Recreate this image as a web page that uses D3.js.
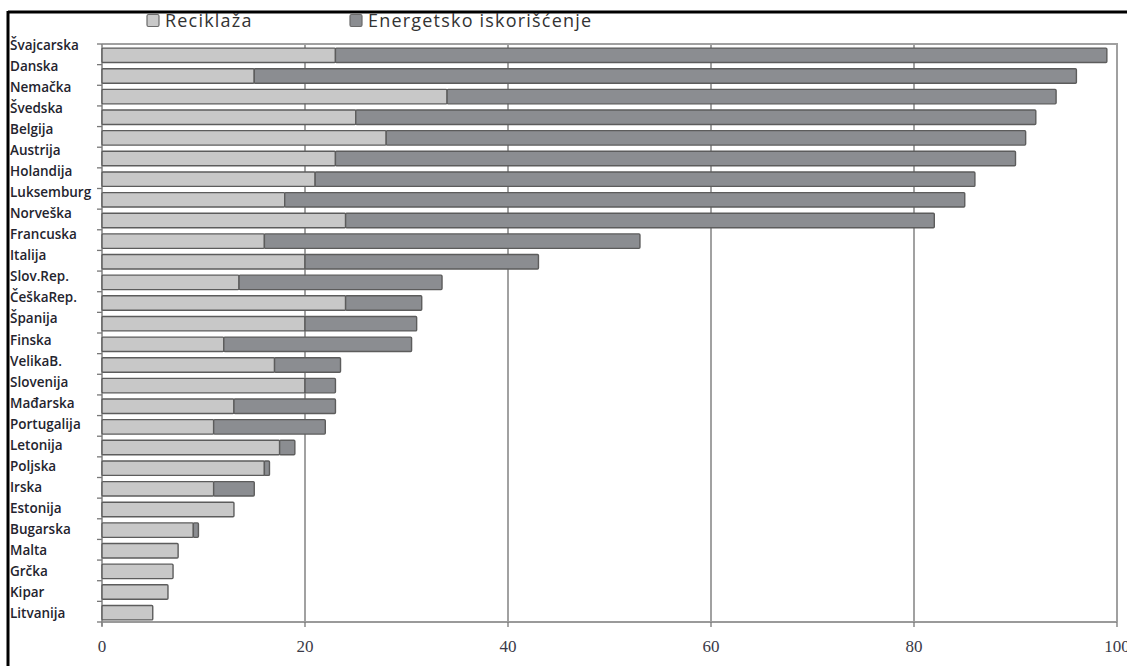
<!DOCTYPE html>
<html>
<head>
<meta charset="utf-8">
<script src="https://cdn.jsdelivr.net/npm/d3@7"></script>
<style>
  html, body { margin: 0; padding: 0; background: #fff; }
  svg { display: block; }
</style>
</head>
<body>
<svg id="chart" width="1127" height="666"></svg>
<script>
// Countries, top to bottom
const categories = ["Švajcarska","Danska","Nemačka","Švedska","Belgija","Austrija","Holandija","Luksemburg","Norveška","Francuska","Italija","Slov.Rep.","ČeškaRep.","Španija","Finska","VelikaB.","Slovenija","Mađarska","Portugalija","Letonija","Poljska","Irska","Estonija","Bugarska","Malta","Grčka","Kipar","Litvanija"];
// Share recycled (%)
const reciklaza = [23,15,34,25,28,23,21,18,24,16,20,13.5,24,20,12,17,20,13,11,17.5,16,11,13,9,7.5,7,6.5,5];
// Share used for energy recovery (%)
const energetsko = [76,81,60,67,63,67,65,67,58,37,23,20,7.5,11,18.5,6.5,3,10,11,1.5,0.5,4,0,0.5,0,0,0,0];
const seriesNames = ["Reciklaža","Energetsko iskorišćenje"];
const xTicks = [0,20,40,60,80,100];
const gridTicks = [20,40,60,80];

const colors = { "Reciklaža": "#c8c8c8", "Energetsko iskorišćenje": "#8b8d91" };

const rows = categories.map((c, i) => ({ kat: c, "Reciklaža": reciklaza[i], "Energetsko iskorišćenje": energetsko[i] }));
const stacked = d3.stack().keys(seriesNames)(rows);

const svg = d3.select("#chart");

const x = d3.scaleLinear().domain([0, 100]).range([102, 1117]);
const y = d3.scaleBand().domain(categories).range([44, 622]).paddingInner(0.3).paddingOuter(0.15);
const yLabel = d3.scalePoint().domain(categories).range([45, 613]);

// outer frame (top and left edges)
svg.append("line").attr("x1", 8).attr("x2", 1127).attr("y1", 12).attr("y2", 12)
  .attr("stroke", "#000").attr("stroke-width", 3);
svg.append("line").attr("x1", 8).attr("x2", 8).attr("y1", 11).attr("y2", 666)
  .attr("stroke", "#000").attr("stroke-width", 3);

// vertical gridlines
svg.append("g").selectAll("line").data(gridTicks).join("line")
  .attr("x1", d => x(d)).attr("x2", d => x(d))
  .attr("y1", y.range()[0]).attr("y2", y.range()[1])
  .attr("stroke", "#8a8a8a").attr("stroke-width", 1.6);

// plot border: top and right
svg.append("path")
  .attr("d", `M${x(0)},${y.range()[0]}H${x(100)}V${y.range()[1]}`)
  .attr("fill", "none").attr("stroke", "#a0a0a0").attr("stroke-width", 2);

// bottom axis line and ticks
svg.append("line").attr("x1", x(0)).attr("x2", x(100)).attr("y1", y.range()[1]).attr("y2", y.range()[1])
  .attr("stroke", "#9a9a9a").attr("stroke-width", 2);
svg.append("g").selectAll("line").data(xTicks).join("line")
  .attr("x1", d => x(d)).attr("x2", d => x(d))
  .attr("y1", y.range()[1]).attr("y2", y.range()[1] + 5)
  .attr("stroke", "#777").attr("stroke-width", 1.3);
svg.append("g").selectAll("text").data(xTicks).join("text")
  .attr("x", d => x(d)).attr("y", 652)
  .attr("text-anchor", "middle")
  .attr("font-family", "'Liberation Serif', 'Times New Roman', serif")
  .attr("font-size", 17)
  .attr("fill", "#3a3a48")
  .text(d => d);

// left axis line with category separator ticks
svg.append("line").attr("x1", x(0)).attr("x2", x(0)).attr("y1", y.range()[0]).attr("y2", y.range()[1] + 4)
  .attr("stroke", "#888").attr("stroke-width", 1.6);
const span = (y.range()[1] - y.range()[0]) / categories.length;
svg.append("g").selectAll("line").data(d3.range(categories.length + 1)).join("line")
  .attr("x1", x(0) - 5).attr("x2", x(0))
  .attr("y1", i => y.range()[0] + i * span).attr("y2", i => y.range()[0] + i * span)
  .attr("stroke", "#777").attr("stroke-width", 1.3);

// stacked bars
svg.append("g").selectAll("g").data(stacked).join("g")
  .attr("fill", d => colors[d.key])
  .selectAll("rect").data(d => d.filter(p => p[1] > p[0])).join("rect")
  .attr("x", p => x(p[0]))
  .attr("y", p => y(p.data.kat) + 1)
  .attr("width", p => x(p[1]) - x(p[0]))
  .attr("height", y.bandwidth())
  .attr("rx", 1)
  .attr("stroke", "#5c5c5c")
  .attr("stroke-width", 1.4);

// category labels
svg.append("g").selectAll("text").data(categories).join("text")
  .attr("x", 10).attr("y", d => yLabel(d))
  .attr("dominant-baseline", "central")
  .attr("font-family", "'Open Sans', 'Noto Sans', sans-serif")
  .attr("font-size", 13.5)
  .attr("font-weight", 600)
  .attr("fill", "#24242e")
  .text(d => d);

// legend
const legendX = [147, 350];
const legend = svg.append("g").selectAll("g").data(seriesNames).join("g")
  .attr("transform", (d, i) => `translate(${legendX[i]},0)`);
legend.append("rect")
  .attr("x", 0).attr("y", 14.5).attr("width", 12).attr("height", 12).attr("rx", 1.5)
  .attr("fill", d => colors[d]).attr("stroke", "#6a6a6a").attr("stroke-width", 1.2);
legend.append("text")
  .attr("x", 18).attr("y", 27)
  .attr("font-family", "'Open Sans', 'Noto Sans', sans-serif")
  .attr("font-size", 18)
  .attr("letter-spacing", 1.2)
  .attr("fill", "#333")
  .text(d => d);
</script>
</body>
</html>
